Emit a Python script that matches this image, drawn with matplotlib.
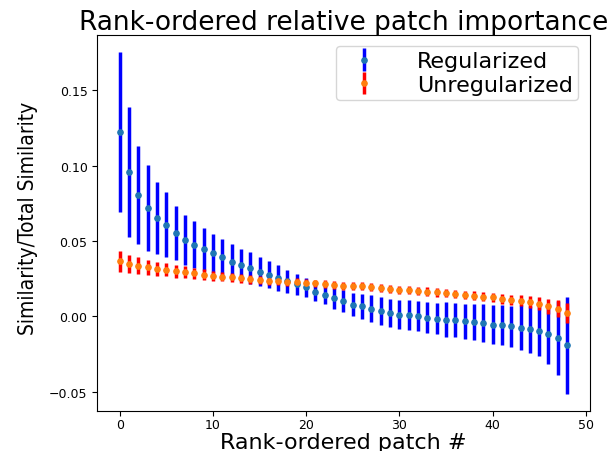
import matplotlib
matplotlib.use("Agg")
import matplotlib.pyplot as plt
import numpy as np

# rank index of each patch
patch = list(range(49))

reg_mean = [0.1224, 0.0959, 0.0806, 0.0720, 0.0655, 0.0607, 0.0554, 0.0509, 0.0476, 0.0444,
            0.0418, 0.0392, 0.0363, 0.0343, 0.0321, 0.0295, 0.0277, 0.0257, 0.0232, 0.0213,
            0.0192, 0.0164, 0.0142, 0.0120, 0.0100, 0.0078, 0.0066, 0.0051, 0.0033, 0.0022,
            0.0011, 0.0007, 0.0000, -0.0011, -0.0015, -0.0022, -0.0027, -0.0033, -0.0037, -0.0044,
            -0.0055, -0.0060, -0.0066, -0.0075, -0.0086, -0.0097, -0.0120, -0.0146, -0.0193]
reg_err = [0.0533, 0.0430, 0.0327, 0.0283, 0.0238, 0.0216, 0.0180, 0.0166, 0.0154, 0.0140,
           0.0130, 0.0124, 0.0120, 0.0107, 0.0104, 0.0097, 0.0088, 0.0086, 0.0076, 0.0070,
           0.0064, 0.0060, 0.0063, 0.0069, 0.0074, 0.0077, 0.0083, 0.0089, 0.0093, 0.0091,
           0.0094, 0.0098, 0.0099, 0.0103, 0.0105, 0.0114, 0.0113, 0.0115, 0.0122, 0.0125,
           0.0128, 0.0133, 0.0135, 0.0150, 0.0155, 0.0165, 0.0195, 0.0245, 0.0321]

unreg_mean = [0.0365, 0.0348, 0.0337, 0.0325, 0.0315, 0.0310, 0.0299, 0.0292, 0.0286, 0.0277,
              0.0270, 0.0264, 0.0259, 0.0252, 0.0246, 0.0242, 0.0237, 0.0235, 0.0230, 0.0228,
              0.0223, 0.0218, 0.0213, 0.0208, 0.0204, 0.0202, 0.0199, 0.0193, 0.0186, 0.0182,
              0.0177, 0.0173, 0.0168, 0.0164, 0.0159, 0.0155, 0.0149, 0.0142, 0.0138, 0.0131,
              0.0126, 0.0117, 0.0109, 0.0104, 0.0093, 0.0084, 0.0066, 0.0051, 0.0022]
unreg_err = [0.0070, 0.0062, 0.0056, 0.0052, 0.0048, 0.0045, 0.0042, 0.0039, 0.0037, 0.0035,
             0.0033, 0.0032, 0.0031, 0.0030, 0.0029, 0.0028, 0.0028, 0.0027, 0.0027, 0.0026,
             0.0026, 0.0026, 0.0026, 0.0026, 0.0026, 0.0026, 0.0026, 0.0026, 0.0026, 0.0026,
             0.0027, 0.0027, 0.0027, 0.0028, 0.0028, 0.0028, 0.0029, 0.0029, 0.0030, 0.0030,
             0.0031, 0.0033, 0.0035, 0.0036, 0.0039, 0.0044, 0.0050, 0.0055, 0.0069]

fig = plt.figure(figsize=(6.16, 4.52), dpi=100)
ax = fig.add_axes([0.158, 0.089, 0.799, 0.832])

ax.errorbar(patch, reg_mean, yerr=reg_err, fmt='o', ms=3.8, color='C0',
            ecolor='b', elinewidth=2.5, label='Regularized')
ax.errorbar(patch, unreg_mean, yerr=unreg_err, fmt='o', ms=3.8, color='C1',
            ecolor='r', elinewidth=2.5, label='Unregularized')

ax.set_title('Rank-ordered relative patch importance', fontsize=19, pad=4)
ax.set_xlabel('Rank-ordered patch #', fontsize=16)
ax.xaxis.set_label_coords(0.5, -0.056)
ax.set_ylabel('Similarity/Total Similarity', fontsize=15, fontstretch='condensed')
ax.yaxis.set_label_coords(-0.12, 0.515)
ax.tick_params(labelsize=9)
ax.tick_params(axis='x', pad=2)
ax.legend(loc='upper right', fontsize=16, labelspacing=0.15, borderpad=0.25,
          handletextpad=1.4, borderaxespad=0.5)

fig.savefig('out.png', dpi=100)
